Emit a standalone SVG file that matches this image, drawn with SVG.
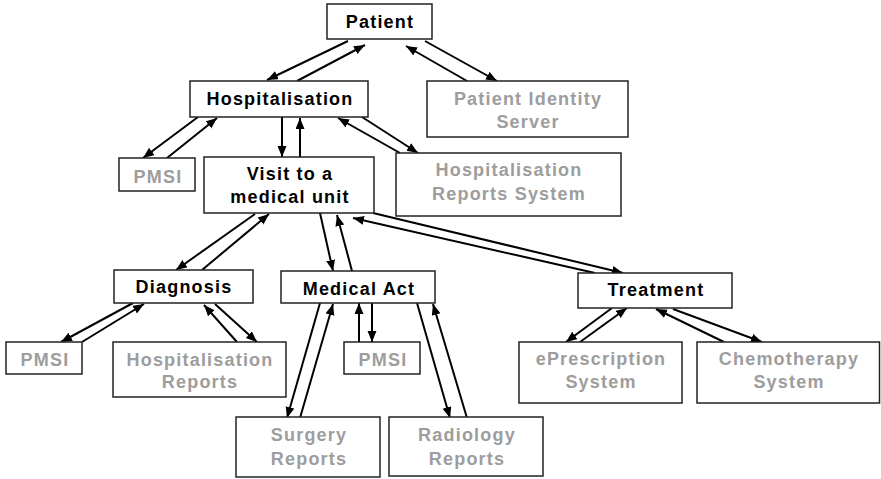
<svg xmlns="http://www.w3.org/2000/svg" width="881" height="479" viewBox="0 0 881 479">
  <defs>
    <marker id="arrow" markerUnits="userSpaceOnUse" markerWidth="12" markerHeight="10" refX="11" refY="4.5" orient="auto">
      <path d="M0,0 L11,4.5 L0,9 z" fill="#000"/>
    </marker>
    <style>
      .box { fill: #fff; stroke: #222; stroke-width: 1.5; }
      .main { font-family: "Liberation Sans", Arial, sans-serif; font-size: 18px; font-weight: bold; fill: #000; text-anchor: middle; letter-spacing: 1.2px; }
      .ext { font-family: "Liberation Sans", Arial, sans-serif; font-size: 18px; font-weight: bold; fill: #9d9d9d; text-anchor: middle; letter-spacing: 1.2px; }
      .conn line { stroke: #000; stroke-width: 2; marker-end: url(#arrow); }
    </style>
  </defs>
  <rect width="881" height="479" fill="#fff"/>

  <!-- connectors: each relationship is a pair of opposite arrows -->
  <g id="connectors" class="conn">
    <!-- Patient / Hospitalisation -->
    <line x1="348" y1="41" x2="267" y2="80"/>
    <line x1="297" y1="81" x2="365" y2="45"/>
    <!-- Patient / Patient Identity Server -->
    <line x1="467" y1="81" x2="406" y2="46"/>
    <line x1="425" y1="41" x2="497" y2="81"/>
    <!-- Hospitalisation / PMSI -->
    <line x1="198" y1="117" x2="143" y2="158"/>
    <line x1="167" y1="158" x2="217" y2="118"/>
    <!-- Hospitalisation / Visit -->
    <line x1="282" y1="117" x2="282" y2="157"/>
    <line x1="300" y1="157" x2="300" y2="118"/>
    <!-- Hospitalisation / Hospitalisation Reports System -->
    <line x1="400" y1="153" x2="338" y2="118"/>
    <line x1="362" y1="117" x2="418" y2="153"/>
    <!-- Visit / Diagnosis -->
    <line x1="255" y1="214" x2="176" y2="270"/>
    <line x1="202" y1="270" x2="269" y2="214"/>
    <!-- Visit / Medical Act -->
    <line x1="320" y1="213" x2="333" y2="271"/>
    <line x1="352" y1="271" x2="337" y2="215"/>
    <!-- Visit / Treatment -->
    <line x1="373" y1="213" x2="623" y2="273"/>
    <line x1="595" y1="273" x2="353" y2="218"/>
    <!-- Diagnosis / PMSI -->
    <line x1="133" y1="303" x2="61" y2="342"/>
    <line x1="82" y1="342" x2="144" y2="304"/>
    <!-- Diagnosis / Hospitalisation Reports -->
    <line x1="237" y1="342" x2="204" y2="305"/>
    <line x1="215" y1="304" x2="257" y2="342"/>
    <!-- Medical Act / Surgery Reports -->
    <line x1="320" y1="303" x2="287" y2="418"/>
    <line x1="300" y1="418" x2="333" y2="304"/>
    <!-- Medical Act / PMSI -->
    <line x1="359" y1="342" x2="359" y2="303"/>
    <line x1="372" y1="303" x2="372" y2="342"/>
    <!-- Medical Act / Radiology Reports -->
    <line x1="417" y1="303" x2="450" y2="418"/>
    <line x1="467" y1="418" x2="433" y2="304"/>
    <!-- Treatment / ePrescription System -->
    <line x1="612" y1="308" x2="566" y2="342"/>
    <line x1="580" y1="342" x2="627" y2="308"/>
    <!-- Treatment / Chemotherapy System -->
    <line x1="724" y1="342" x2="656" y2="309"/>
    <line x1="673" y1="309" x2="762" y2="342"/>
  </g>

  <g id="patient">
    <rect class="box" x="327" y="4" width="105" height="35"/>
    <text class="main" x="380" y="28">Patient</text>
  </g>
  <g id="hospitalisation">
    <rect class="box" x="190" y="81" width="178" height="36"/>
    <text class="main" x="280" y="105">Hospitalisation</text>
  </g>
  <g id="patient-identity-server">
    <rect class="box" x="427" y="81" width="201" height="56"/>
    <text class="ext" x="528" y="105">Patient Identity</text>
    <text class="ext" x="528" y="128">Server</text>
  </g>
  <g id="pmsi-hospitalisation">
    <rect class="box" x="119" y="158" width="76" height="33"/>
    <text class="ext" x="158" y="183">PMSI</text>
  </g>
  <g id="visit">
    <rect class="box" x="204" y="157" width="170" height="56"/>
    <text class="main" x="290" y="180">Visit to a</text>
    <text class="main" x="290" y="203">medical unit</text>
  </g>
  <g id="hospitalisation-reports-system">
    <rect class="box" x="396" y="153" width="225" height="63"/>
    <text class="ext" x="509" y="176">Hospitalisation</text>
    <text class="ext" x="509" y="200">Reports System</text>
  </g>
  <g id="diagnosis">
    <rect class="box" x="114" y="270" width="139" height="33"/>
    <text class="main" x="184" y="293">Diagnosis</text>
  </g>
  <g id="medical-act">
    <rect class="box" x="281" y="271" width="154" height="32"/>
    <text class="main" x="359" y="295">Medical Act</text>
  </g>
  <g id="treatment">
    <rect class="box" x="578" y="273" width="154" height="35"/>
    <text class="main" x="656" y="296">Treatment</text>
  </g>
  <g id="pmsi-diagnosis">
    <rect class="box" x="6" y="342" width="76" height="32"/>
    <text class="ext" x="45" y="366">PMSI</text>
  </g>
  <g id="hospitalisation-reports">
    <rect class="box" x="113" y="342" width="173" height="55"/>
    <text class="ext" x="200" y="366">Hospitalisation</text>
    <text class="ext" x="200" y="388">Reports</text>
  </g>
  <g id="pmsi-medical-act">
    <rect class="box" x="344" y="342" width="76" height="32"/>
    <text class="ext" x="383" y="366">PMSI</text>
  </g>
  <g id="eprescription-system">
    <rect class="box" x="519" y="342" width="163" height="61"/>
    <text class="ext" x="601" y="365">ePrescription</text>
    <text class="ext" x="601" y="388">System</text>
  </g>
  <g id="chemotherapy-system">
    <rect class="box" x="697" y="342" width="182.5" height="61"/>
    <text class="ext" x="789" y="365">Chemotherapy</text>
    <text class="ext" x="789" y="388">System</text>
  </g>
  <g id="surgery-reports">
    <rect class="box" x="236" y="417" width="144" height="60"/>
    <text class="ext" x="309" y="441">Surgery</text>
    <text class="ext" x="309" y="465">Reports</text>
  </g>
  <g id="radiology-reports">
    <rect class="box" x="389" y="417" width="154" height="59"/>
    <text class="ext" x="467" y="441">Radiology</text>
    <text class="ext" x="467" y="465">Reports</text>
  </g>
</svg>
